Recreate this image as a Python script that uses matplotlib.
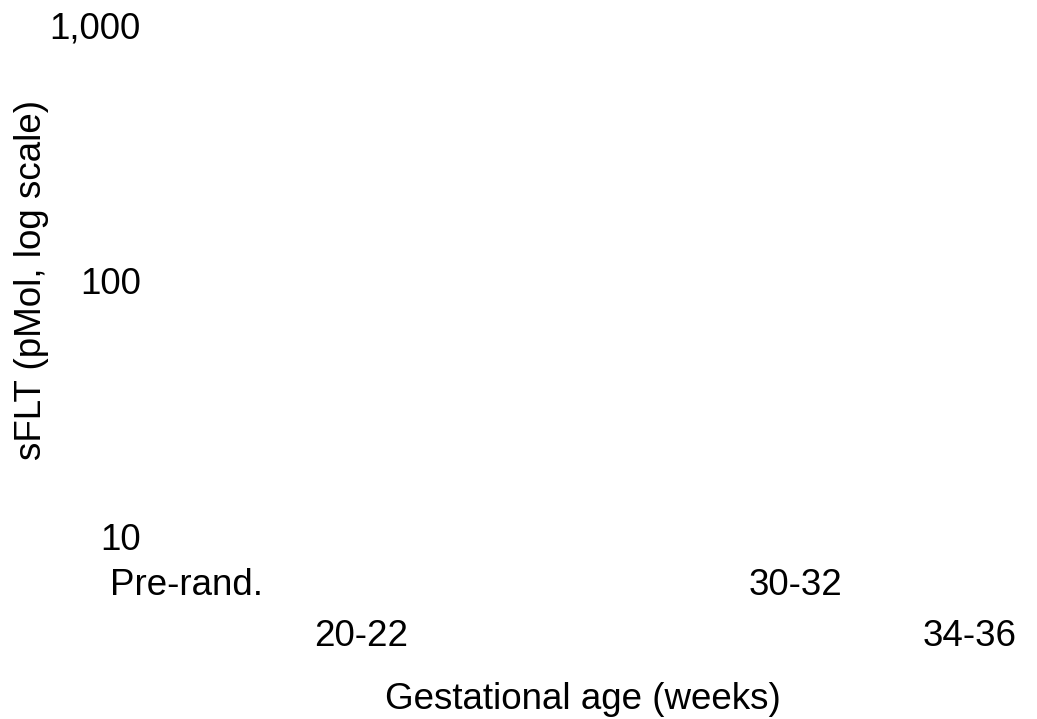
import matplotlib
matplotlib.use('Agg')
import matplotlib.pyplot as plt
from matplotlib.ticker import FixedLocator, FixedFormatter, NullFormatter

plt.rcParams['font.family'] = ['Liberation Sans', 'DejaVu Sans']

# Visit timepoints (gestational weeks, midpoint of each window)
visit_weeks_upper = [17, 31]
visit_labels_upper = ['Pre-rand.', '30-32']
visit_weeks_lower = [21, 35]
visit_labels_lower = ['20-22', '34-36']

y_ticks = [10, 100, 1000]
y_tick_labels = ['10', '100', '1,000']

fs = 26.5

fig = plt.figure(figsize=(10.37, 7.19), dpi=100)
ax = fig.add_axes([150 / 1037, 182 / 719, 870 / 1037, 512 / 719])

ax.set_yscale('log')
ax.set_ylim(10, 1000)
ax.set_xlim(16.15, 36.15)

for s in ax.spines.values():
    s.set_visible(False)

ax.yaxis.set_major_locator(FixedLocator(y_ticks))
ax.yaxis.set_major_formatter(FixedFormatter(y_tick_labels))
ax.yaxis.set_minor_formatter(NullFormatter())
ax.tick_params(axis='y', which='both', length=0, labelsize=fs, pad=6.5)

# alternate the visit labels on two rows so they don't collide
ax.xaxis.set_major_locator(FixedLocator(visit_weeks_upper))
ax.xaxis.set_major_formatter(FixedFormatter(visit_labels_upper))
ax.xaxis.set_minor_locator(FixedLocator(visit_weeks_lower))
ax.xaxis.set_minor_formatter(FixedFormatter(visit_labels_lower))
ax.tick_params(axis='x', which='major', length=0, labelsize=fs, pad=22)
ax.tick_params(axis='x', which='minor', length=0, labelsize=fs, pad=59)

ax.set_xlabel('Gestational age (weeks)', fontsize=fs, va='center')
ax.xaxis.set_label_coords(0.497, -0.318)
ax.set_ylabel('sFLT (pMol, log scale)', fontsize=fs, va='center')
ax.yaxis.set_label_coords(-0.136, 0.502)

fig.savefig('out.png', dpi=100, facecolor='white')
